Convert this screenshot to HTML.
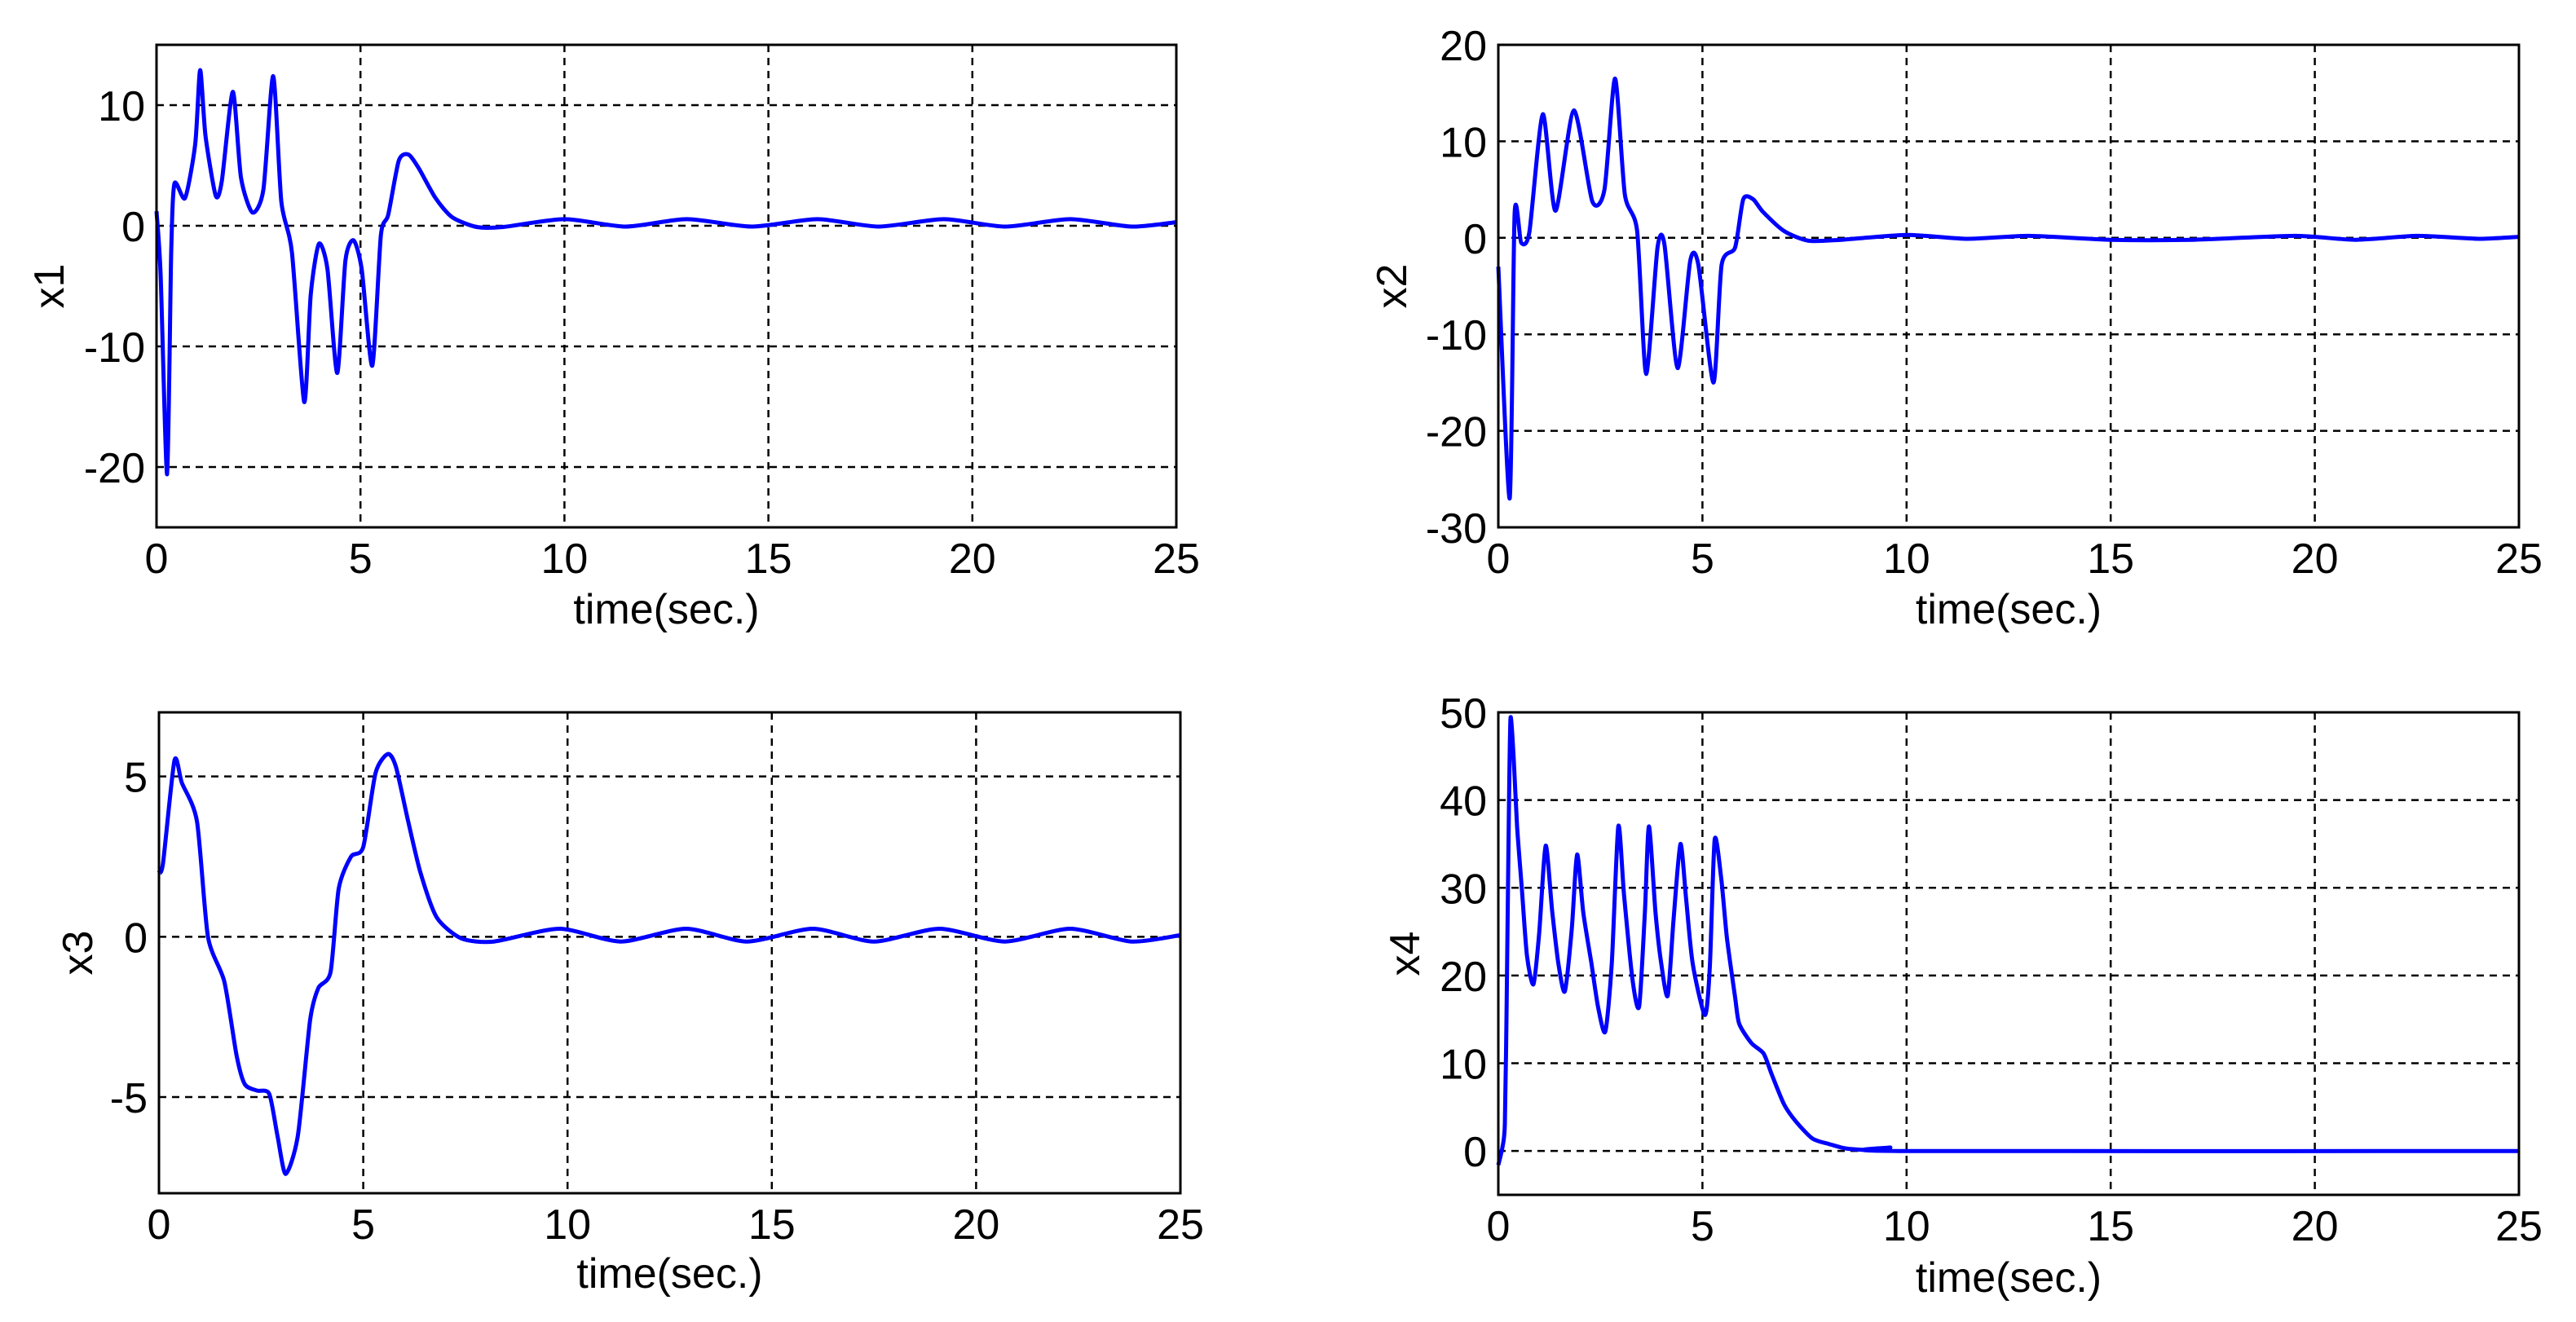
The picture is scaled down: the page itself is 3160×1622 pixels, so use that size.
<!DOCTYPE html>
<html><head><meta charset="utf-8"><style>
html,body{margin:0;padding:0;background:#fff;}
svg{display:block;font-family:"Liberation Sans",Arial,sans-serif;}
</style></head><body>
<svg id="fig" width="3160" height="1622" viewBox="0 0 3160 1622" xmlns="http://www.w3.org/2000/svg"></svg>
<script>
const xTicks = [0,5,10,15,20,25];
const t1 = [0,0.1,0.26,0.36,0.44,0.7,0.95,1.07,1.2,1.45,1.6,1.87,2.07,2.35,2.62,2.86,3.06,3.32,3.62,3.78,3.98,4.19,4.43,4.63,4.83,5.03,5.29,5.5,5.68,5.94,6.18,6.44,6.84,7.25,7.85,8.5,10,11.5,13,14.6,16.2,17.7,19.3,20.8,22.4,23.9,25];
const x1v = [1.2,-4,-20.6,-2.2,3.5,2.3,6.8,12.9,7.5,2.5,3.7,11.1,4,1.1,3,12.4,2,-2.2,-14.6,-5.7,-1.5,-3.6,-12.2,-2.9,-1.2,-3.6,-11.6,-0.8,0.9,5.4,5.9,4.7,2.3,0.7,-0.1,-0.1,0.55,-0.07,0.55,-0.07,0.55,-0.07,0.55,-0.07,0.55,-0.07,0.3];
const y1Ticks = [-20,-10,0,10];
const t2 = [0,0.28,0.4,0.56,0.76,1.09,1.4,1.85,2.3,2.6,2.86,3.1,3.4,3.62,3.9,4.07,4.39,4.7,4.9,5.27,5.47,5.8,6.0,6.24,6.48,7,7.6,8.4,10,11.5,13,15,17,19.5,21,22.5,24,25];
const x2v = [-3,-27,2.5,-0.5,0.6,12.8,2.8,13.2,3.8,5,16.5,4.5,0.7,-14.1,-1,-0.7,-13.5,-2.4,-2.8,-15,-2.8,-1,4,4,2.7,0.7,-0.3,-0.2,0.3,-0.1,0.2,-0.2,-0.2,0.2,-0.2,0.2,-0.1,0.1];
const y2Ticks = [-30,-20,-10,0,10,20];
const t3 = [0,0.1,0.38,0.56,0.93,1.2,1.6,1.9,2.1,2.4,2.7,2.9,3.1,3.4,3.7,3.9,4.2,4.4,4.7,5.0,5.3,5.6,5.8,6.1,6.4,6.8,7.4,8.2,9.8,11.3,12.9,14.4,16,17.5,19.1,20.7,22.3,23.8,25];
const x3v = [2.0,2.3,5.5,4.8,3.6,0,-1.4,-3.7,-4.6,-4.8,-4.9,-6.2,-7.4,-6.2,-2.6,-1.6,-1.1,1.5,2.5,2.8,5.1,5.7,5.3,3.6,2,0.6,-0.05,-0.15,0.25,-0.15,0.25,-0.15,0.25,-0.15,0.25,-0.15,0.25,-0.15,0.05];
const y3Ticks = [-5,0,5];
const t4 = [0,0.1,0.16,0.2,0.26,0.3,0.38,0.46,0.58,0.7,0.86,1.0,1.16,1.32,1.47,1.63,1.8,1.93,2.08,2.28,2.44,2.62,2.78,2.94,3.08,3.29,3.45,3.59,3.69,3.85,3.99,4.15,4.29,4.46,4.6,4.76,5.06,5.18,5.3,5.46,5.6,5.8,5.9,6.2,6.5,6.7,7.0,7.3,7.7,8.1,8.5,9.1,9.6,9.8,25];
const x4v = [-1.6,0.4,3,15,39,49.4,44.5,37,29.7,22.3,19,24.8,34.8,27.3,21.4,18.2,25.3,33.8,27.2,21.4,16.5,13.6,21.4,37,29.2,19.4,16.5,27.2,37,27.2,21.4,17.7,26.2,35,28.7,21.4,15.5,20.9,35.5,31.1,24.3,17.5,14.5,12.3,11.1,8.7,5.3,3.3,1.4,0.8,0.3,0.1,0.4,0,0];
const y4Ticks = [0,10,20,30,40,50];

const NS = "http://www.w3.org/2000/svg";
const svg = document.getElementById('fig');
function mk(tag, attrs, parent){const e=document.createElementNS(NS,tag);for(const k in attrs)e.setAttribute(k,attrs[k]);(parent||svg).appendChild(e);return e;}

function smoothPath(P){
  let d='M'+P[0][0].toFixed(1)+','+P[0][1].toFixed(1);
  const k=0.12;
  for(let i=0;i<P.length-1;i++){
    const p0=P[Math.max(0,i-1)],p1=P[i],p2=P[i+1],p3=P[Math.min(P.length-1,i+2)];
    const c1x=p1[0]+(p2[0]-p0[0])*k, c1y=p1[1]+(p2[1]-p0[1])*k;
    const c2x=p2[0]-(p3[0]-p1[0])*k, c2y=p2[1]-(p3[1]-p1[1])*k;
    d+=' C'+c1x.toFixed(1)+','+c1y.toFixed(1)+' '+c2x.toFixed(1)+','+c2y.toFixed(1)+' '+p2[0].toFixed(1)+','+p2[1].toFixed(1);
  }
  return d;
}

function panel(id, box, ymin, ymax, yTicks, ts, vs, ylab, ylabX, xlabY){
  const g = mk('g',{});
  
  
  const X = t => box.l + (t-0)/(25-0)*(box.r-box.l);
  const Y = v => box.b - (v-ymin)/(ymax-ymin)*(box.b-box.t);
  mk('rect',{x:box.l,y:box.t,width:box.r-box.l,height:box.b-box.t,fill:'#fff'},g);
  xTicks.forEach(t=>{
    if(t>0 && t<25){
      const l = mk('line',{x1:X(t),x2:X(t),y1:box.t,y2:box.b,stroke:'#000','stroke-width':2.5,'stroke-dasharray':'9,7'},g);
      
      
    }
    const tx = mk('text',{x:X(t),y:box.b+56,'font-size':52,'text-anchor':'middle',fill:'#000'},g);
    tx.textContent = t;
    
    
  });
  yTicks.forEach(v=>{
    if(v>ymin && v<ymax){
      const l = mk('line',{x1:box.l,x2:box.r,y1:Y(v),y2:Y(v),stroke:'#000','stroke-width':2.5,'stroke-dasharray':'9,7'},g);
      
      
    }
    const tx = mk('text',{x:box.l-14,y:Y(v)+19,'font-size':52,'text-anchor':'end',fill:'#000'},g);
    tx.textContent = v;
    
    
  });
  const P = ts.map((t,i)=>[X(t),Y(vs[i])]);
  const line = mk('path',{d:smoothPath(P),fill:'none',stroke:'#0000ff','stroke-width':5,'stroke-linejoin':'round'},g);
  
  
  const fr = mk('rect',{x:box.l,y:box.t,width:box.r-box.l,height:box.b-box.t,fill:'none',stroke:'#000','stroke-width':3},g);
  
  
  const xl = mk('text',{x:(box.l+box.r)/2,y:xlabY,'font-size':52,'text-anchor':'middle',fill:'#000'},g);
  xl.textContent='time(sec.)';
  
  
  const cy=(box.t+box.b)/2;
  const yl = mk('text',{x:ylabX,y:cy,'font-size':52,'text-anchor':'middle',fill:'#000',transform:'rotate(-90 '+ylabX+' '+cy+')'},g);
  yl.textContent=ylab;
  
  
}
panel('x1',{l:192,r:1443,t:55,b:647},-25,15,y1Ticks,t1,x1v,'x1',78,765);
panel('x2',{l:1838,r:3090,t:55,b:647},-30,20,y2Ticks,t2,x2v,'x2',1725,765);
panel('x3',{l:195,r:1448,t:874,b:1464},-8,7,y3Ticks,t3,x3v,'x3',113,1580);
panel('x4',{l:1838,r:3090,t:874,b:1466},-5,50,y4Ticks,t4,x4v,'x4',1741,1585);
</script>
</body></html>
